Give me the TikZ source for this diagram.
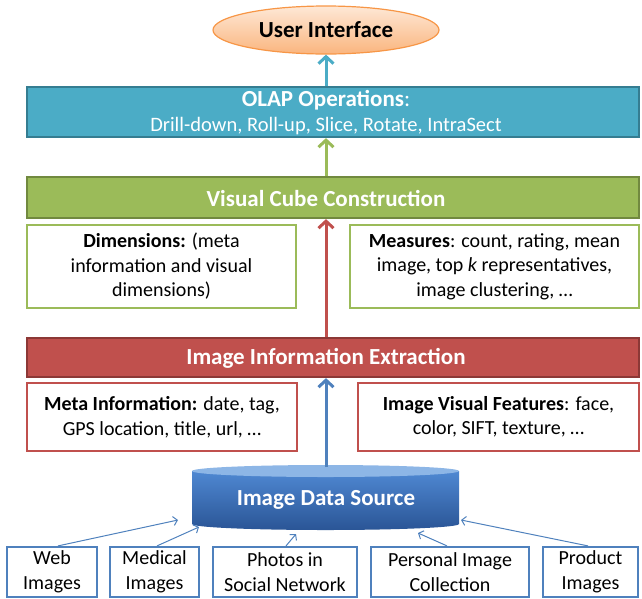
\documentclass[tikz,border=0pt]{standalone}
\usepackage{fontspec}
\setmainfont{Carlito}
\usetikzlibrary{shapes.geometric,arrows.meta,calc}
\definecolor{olapc}{HTML}{4BACC6}
\definecolor{olapdark}{HTML}{357D91}
\definecolor{cubec}{HTML}{9BBB59}
\definecolor{cubedark}{HTML}{71893F}
\definecolor{extrc}{HTML}{C0504D}
\definecolor{extrdark}{HTML}{8C3836}
\definecolor{srcblue}{HTML}{4F81BD}
\definecolor{uiorange}{HTML}{F79646}
\definecolor{uitop}{HTML}{FEE8D6}
\definecolor{uibot}{HTML}{FAB57E}
\definecolor{cylA}{HTML}{4F88D2}
\definecolor{cylB}{HTML}{2A5596}
\definecolor{cyltopc}{HTML}{8DB6E6}
\begin{document}
\begin{tikzpicture}[x=1pt,y=-1pt,
  every node/.style={font=\fontsize{20}{24.5}\selectfont, inner sep=0pt},
  bar/.style={rectangle, line width=2.2pt, minimum width=612pt},
  bartext/.style={text=white, align=center, font=\fontsize{20.5}{25}\selectfont},
  bartitle/.style={text=white, font=\fontsize{23}{26}\selectfont\bfseries},
  infobox/.style={rectangle, line width=2.2pt, fill=white, align=center},
  srcbox/.style={rectangle, draw=srcblue, line width=2.2pt, align=center, minimum height=50pt},
  mainarrow/.style={line width=3pt, -{Straight Barb[length=7pt,width=15pt]}},
  srcarrow/.style={draw=srcblue, line width=1pt, -{Straight Barb[length=4pt,width=9pt]}}
]
\useasboundingbox (0,0) rectangle (642,598);

% User interface
\node[ellipse, draw=uiorange, line width=1.2pt, top color=uitop, bottom color=uibot,
      minimum width=226pt, minimum height=48pt, font=\fontsize{23}{26}\selectfont\bfseries] (ui) at (326,30) {User Interface};

% OLAP
\node[bar, draw=olapdark, fill=olapc, minimum height=50pt] (olap) at (333,112) {};
\node[bartext] (olapt) at (326,113) {{\fontsize{23}{25}\selectfont\textbf{OLAP Operations}:}\\Drill-down, Roll-up, Slice, Rotate, IntraSect};

% Visual cube
\node[bar, draw=cubedark, fill=cubec, minimum height=41pt] (vcc) at (333,197.5) {};
\node[bartitle] (vcct) at (326,198) {Visual Cube Construction};
\node[infobox, draw=cubec, minimum width=269pt, minimum height=83pt] (dim) at (161.5,266.5)
  {\textbf{Dimensions:} (meta\\information and visual\\dimensions)};
\node[infobox, draw=cubec, minimum width=289pt, minimum height=83pt] (meas) at (494.5,266.5)
  {\textbf{Measures}: count, rating, mean\\image, top \textit{k} representatives,\\image clustering, …};

% Extraction
\node[bar, draw=extrdark, fill=extrc, minimum height=39pt] (iie) at (333,357.5) {};
\node[bartitle] (iiet) at (326,358) {Image Information Extraction};
\node[infobox, draw=extrc, minimum width=270pt, minimum height=68pt] (meta) at (162,417)
  {\textbf{Meta Information:} date, tag,\\GPS location, title, url, …};
\node[infobox, draw=extrc, minimum width=281pt, minimum height=68pt] (ivf) at (498.5,417)
  {\textbf{Image Visual Features}: face,\\color, SIFT, texture, …};

% Cylinder
\shade[top color=cylA, bottom color=cylB] (192,471) -- (192,524)
  arc[start angle=180, end angle=360, x radius=133.5pt, y radius=6pt] -- (459,471) -- cycle;
\fill[cyltopc] (325.5,471) ellipse [x radius=133.5pt, y radius=6pt];
\node[bartitle] (ids) at (326,500) {Image Data Source};
\coordinate (cyltop) at (326,467);

% Sources
\node[srcbox, minimum width=90pt] (web) at (52,572) {Web\\Images};
\node[srcbox, minimum width=89pt] (med) at (154.5,572) {Medical\\Images};
\node[srcbox, minimum width=144pt] (photo) at (285,572) {Photos in\\Social Network};
\node[srcbox, minimum width=158pt] (pers) at (450,572) {Personal Image\\Collection};
\node[srcbox, minimum width=95pt] (prod) at (590.5,572) {Product\\Images};

% Main arrows
\draw[mainarrow, olapc] (olap.north -| ui.south) -- (ui.south);
\draw[mainarrow, cubec] (vcc.north -| ui.south) -- (olap.south -| ui.south);
\draw[mainarrow, extrc] (iie.north -| ui.south) -- (vcc.south -| ui.south);
\draw[mainarrow, srcblue] (cyltop) -- (iie.south -| cyltop);

% Source arrows
\coordinate (h1) at (178,520);
\coordinate (h2) at (199,527);
\coordinate (h3) at (296,534);
\coordinate (h4) at (418,533);
\coordinate (h5) at (461,520);
\draw[srcarrow] ([xshift=6pt]web.north) -- (h1);
\draw[srcarrow] ([xshift=2.5pt]med.north) -- (h2);
\draw[srcarrow] ([xshift=1pt]photo.north) -- (h3);
\draw[srcarrow] ([xshift=-3pt]pers.north) -- (h4);
\draw[srcarrow] ([xshift=-2.5pt]prod.north) -- (h5);
\end{tikzpicture}
\end{document}
